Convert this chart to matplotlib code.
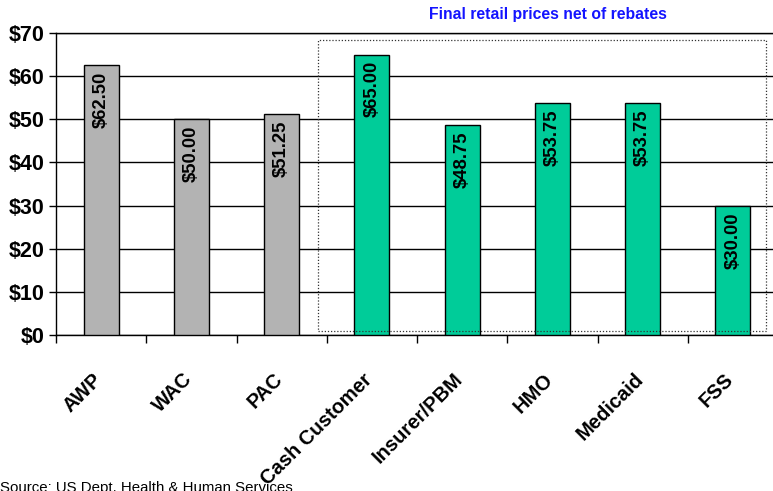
import matplotlib
matplotlib.use("Agg")
import matplotlib.pyplot as plt
from matplotlib.patches import Rectangle
from matplotlib.transforms import ScaledTranslation

categories = ["AWP", "WAC", "PAC", "Cash Customer", "Insurer/PBM", "HMO", "Medicaid", "FSS"]
values = [62.50, 50.00, 51.25, 65.00, 48.75, 53.75, 53.75, 30.00]
groups = ["list", "list", "list", "retail", "retail", "retail", "retail", "retail"]
yticks = [0, 10, 20, 30, 40, 50, 60, 70]

colors = {"list": "#B3B3B3", "retail": "#00CC99"}
plt.rcParams['font.family'] = ['Liberation Sans', 'DejaVu Sans']

fig = plt.figure(figsize=(7.73, 4.91), dpi=100)
W, H = 773, 491
x0, x1 = 56, 778
y0, y1 = 335, 33
ax = fig.add_axes([x0 / W, (H - y0) / H, (x1 - x0) / W, (y0 - y1) / H])

xs = list(range(len(categories)))
ax.bar(xs, values, width=0.39, color=[colors[g] for g in groups],
       edgecolor="black", linewidth=1.0, zorder=3)
for x, v in zip(xs, values):
    ax.text(x, v - 1.5, f"${v:.2f}", rotation=90, ha="center", va="top",
            fontsize=13.3, fontweight="bold", zorder=4)

ax.set_xlim(-0.5, len(categories) - 0.5)
ax.set_ylim(0, 70)
ax.set_yticks(yticks)
ax.set_yticklabels([f"${t}" for t in yticks], fontsize=15.5, fontweight="bold")
ax.grid(axis="y", color="black", linewidth=1.0, zorder=0)
ax.set_axisbelow(True)

ax.set_xticks([i + 0.5 for i in range(-1, len(categories))], minor=False)
ax.set_xticklabels([])
ax.set_xticks(xs, minor=True)
ax.set_xticklabels(categories, minor=True, rotation=45, ha="right",
                   rotation_mode="anchor", fontsize=14.5, fontweight="bold")
ax.tick_params(axis="x", which="major", length=6, width=1, direction="out")
ax.tick_params(axis="x", which="minor", length=0, pad=25)
ax.tick_params(axis="y", length=5, width=1, direction="out", pad=3)
shift = ScaledTranslation(-9 / 100, 0, fig.dpi_scale_trans)
for lbl in ax.get_xticklabels(minor=True):
    lbl.set_transform(lbl.get_transform() + shift)

for s in ["right"]:
    ax.spines[s].set_visible(False)
for s in ["left", "bottom", "top"]:
    ax.spines[s].set_linewidth(1.0)

rect = Rectangle((2.40, 0.9), 7.37 - 2.40, 68.4 - 0.9, fill=False,
                 linestyle=(0, (1, 1.5)), linewidth=0.9, edgecolor="#333333", zorder=5,
                 clip_on=False)
ax.add_patch(rect)

fig.text(548 / W, 1 - 14 / H, "Final retail prices net of rebates", color="#1414FF",
         fontsize=11.3, fontweight="bold", ha="center", va="center")
fig.text(0.0, 1 - 481 / H, "Source: US Dept. Health & Human Services", fontsize=10.8,
         ha="left", va="top")

fig.savefig("out.png", dpi=100)
